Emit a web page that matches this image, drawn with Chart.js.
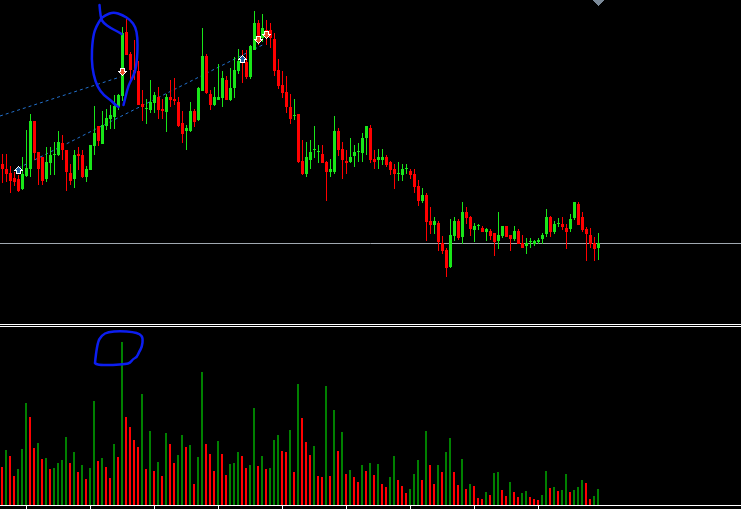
<!DOCTYPE html>
<html lang="en">
<head>
    <meta charset="UTF-8">
    <title>Candles + Volumes</title>
    <script src="https://cdn.jsdelivr.net/npm/chart.js"></script>
    <style>
        html, body { margin: 0; padding: 0; background: #000; overflow: hidden; }
        #wrap { position: relative; width: 741px; height: 509px; background: #000; }
        #priceChart { position: absolute; left: 0; top: 0; }
        #volChart { position: absolute; left: 0; top: 327px; }
        .sep { position: absolute; left: 0; width: 741px; height: 1px; background: #fff; }
    </style>
</head>
<body>
<div id="wrap">
    <canvas id="priceChart" width="741" height="323"></canvas>
    <div class="sep" style="top:324px"></div>
    <div class="sep" style="top:326px"></div>
    <canvas id="volChart" width="741" height="182"></canvas>
</div>

<script>
    // OHLC (150 bars)
    const openP = [
        166,161,157,152,151,141,154,161,209,178, 173,151,167,175,175,187,180,157,151,176,
        175,153,160,184,204,186,204,211,213,223, 234,298,276,260,259,226,221,220,227,233,
        221,218,233,231,228,207,199,199,219,210, 239,274,236,225,230,232,250,230,242,259,
        270,268,253,280,307,292,300,300,291,260, 245,238,223,214,216,169,156,170,180,178,
        176,168,158,158,199,181,169,168,174,178, 177,192,202,171,170,170,173,168,161,156,
        155,161,159,156,144,129,135,109,105,107, 87,80,63,94,109,93,118,113,100,104,
        102,98,99,97,89,94,104,95,91,99, 87,84,88,86,88,91,96,113,98,106,
        106,102,101,112,126,113,101,95,87,82
    ];
    const highP = [
        176,176,164,158,155,173,200,216,209,178, 173,183,183,188,199,195,180,166,180,183,
        180,164,185,224,204,219,221,225,235,236, 303,311,278,290,269,240,231,250,238,243,
        231,236,250,252,233,219,205,228,221,243, 302,276,240,243,266,259,254,262,273,281,
        280,280,285,319,310,316,310,307,297,271, 259,254,236,231,216,190,188,190,204,185,
        185,169,171,214,202,188,180,192,185,187, 197,204,205,180,181,181,175,169,166,168,
        166,166,161,161,150,142,137,123,113,109, 94,82,111,113,111,128,123,114,107,106,
        104,102,101,97,118,104,104,95,104,101, 95,92,92,90,92,97,121,114,109,112,
        113,106,116,128,128,118,103,102,93,97
    ];
    const lowP = [
        147,148,137,144,138,140,153,153,170,145, 145,148,155,155,174,170,139,145,142,160,
        152,148,160,175,184,186,200,201,201,220, 229,275,250,250,225,209,206,217,217,211,
        211,198,223,225,203,187,180,198,203,209, 239,236,220,224,230,223,230,229,232,256,
        247,251,251,280,285,288,285,282,254,241, 232,217,206,210,167,155,153,161,172,167,
        167,129,153,156,174,151,156,167,163,168, 168,175,167,161,161,165,163,155,141,149,
        149,156,151,137,124,127,89,96,96,79, 76,53,62,89,90,86,106,94,88,100,
        98,89,90,74,81,92,93,79,89,86, 82,76,82,84,86,86,93,93,96,103,
        100,81,98,110,105,98,69,82,69,70
    ];
    const closeP = [
        161,156,149,148,139,156,162,209,177,161, 149,168,175,175,188,180,158,149,175,174,
        153,161,185,197,189,205,212,215,224,235, 297,275,260,257,225,223,221,228,235,220,
        219,233,230,229,204,196,202,219,208,242, 274,237,225,233,233,252,230,242,260,269,
        267,253,284,307,293,302,292,292,259,244, 237,223,211,214,168,156,173,178,180,178,
        167,158,161,199,180,170,167,173,178,178, 192,204,170,168,173,173,165,160,156,156,
        161,161,155,143,129,135,108,105,109,88, 79,62,95,109,92,118,112,101,104,104,
        98,101,94,88,95,104,93,91,99,86, 82,87,88,89,90,95,113,98,106,106,
        103,98,111,128,105,100,96,86,81,87
    ];
    const volumes = [
        38,55,49,29,36,56,102,88,57,62, 46,47,36,37,42,45,68,42,53,33,
        40,26,37,104,44,47,38,27,61,48, 163,88,78,65,58,111,36,74,34,43,
        29,72,61,42,50,70,58,60,21,48, 133,61,51,34,64,51,30,41,42,53,
        49,37,40,97,39,49,36,37,65,70, 54,53,75,33,121,87,63,50,59,29,
        28,119,29,95,54,73,31,35,28,23, 40,34,42,30,41,21,18,28,49,25,
        19,12,16,31,45,25,74,40,21,40, 33,53,67,33,20,46,16,21,19,7,
        6,13,10,32,33,15,9,23,13,8, 12,14,8,6,5,10,34,17,18,14,
        15,31,13,15,18,25,22,6,9,16
    ];
    const timeTicks = [6, 22, 38, 54, 70, 86, 102, 118, 134];

    // signals and drawn objects: [bar index, price]
    const upArrows = [[4, 160], [60, 271]];
    const downArrows = [[30, 258], [64, 290], [66, 295]];
    const upperTrend = [[-0.625, 214], [29.4, 253]];
    const lowerTrend = [[4, 162], [65, 285]];
    const levelPrice = 86.5;
    const shiftMarker = [149, 327];

    // hand-drawn circles (pixel offsets from bar 30)
    const doodlePrice = [
        [[-23,-22],[-22,-9],[-19,-4],[-12,1],[-4,5],[-1,7]],
        [[-21,-9],[-17,-12],[-9,-15],[0,-12],[8,-7],[13,0],[15,10],[15,26],[14,36],[13,43],[10,51],[6,58],[3,70],[1,78]],
        [[-21,-9],[-27,0],[-30,13],[-31,33],[-29,48],[-25,60],[-19,68],[-12,73],[-7,78],[-4,80]]
    ];
    const doodleVolume = [
        [[-27,21],[-25,1],[-20,-7],[-14,-10],[-2,-11],[11,-10],[18,-8],[21,-4],[20,5],[17,10],[15,15],[11,17],[8,21],[4,22],[-9,23],[-22,23],[-26,22],[-27,21]]
    ];

    const BULL = '#19e619', BEAR = '#ff0000';
    const idx = openP.map((_, i) => i);
    const candleColors = idx.map(i => closeP[i] >= openP[i] ? BULL : BEAR);
    // MT4 volumes: green when volume grows vs previous bar
    const volColors = volumes.map((v, i) => i > 0 && v > volumes[i - 1] ? '#008000' : '#ff0000');

    function pixelIcon(rows, palette) {
        const c = document.createElement('canvas');
        c.width = rows[0].length;
        c.height = rows.length;
        const g = c.getContext('2d');
        rows.forEach((r, y) => [...r].forEach((ch, x) => {
            if (palette[ch]) { g.fillStyle = palette[ch]; g.fillRect(x, y, 1, 1); }
        }));
        return c;
    }
    const arrowRows = ['....W....', '...WBW...', '..WBBBW..', '.WBBBBBW.', 'WWWBBBWWW', '..WBBBW..', '..WBBBW..', '..WWWWW..'];
    const upImg = pixelIcon(arrowRows, { W: '#ffffff', B: '#1f5f9f' });
    const downImg = pixelIcon(arrowRows.slice().reverse(), { W: '#ffffff', B: '#e8502a' });
    const shiftImg = pixelIcon(['XXXXXXXXXXX', '.XXXXXXXXX.', '..XXXXXXX..', '...XXXXX...', '....XXX....', '.....X.....'], { X: '#7b8a99' });

    function drawDoodle(chart, xv, yv, strokes) {
        const { ctx, scales } = chart;
        const ox = scales.x.getPixelForValue(xv), oy = scales.y.getPixelForValue(yv);
        ctx.save();
        ctx.strokeStyle = '#0c1ef0';
        ctx.lineWidth = 2.5;
        ctx.lineJoin = 'round';
        ctx.lineCap = 'round';
        strokes.forEach(s => {
            const p = s.map(([dx, dy]) => [ox + dx, oy + dy]);
            ctx.beginPath();
            ctx.moveTo(p[0][0], p[0][1]);
            for (let k = 1; k < p.length - 1; k++) {
                ctx.quadraticCurveTo(p[k][0], p[k][1], (p[k][0] + p[k + 1][0]) / 2, (p[k][1] + p[k + 1][1]) / 2);
            }
            ctx.lineTo(p[p.length - 1][0], p[p.length - 1][1]);
            ctx.stroke();
        });
        ctx.restore();
    }

    const toPts = arr => arr.map(([x, y]) => ({ x, y }));

    new Chart(document.getElementById('priceChart'), {
        type: 'bar',
        data: {
            datasets: [
                {
                    type: 'line', order: -1, data: toPts(upArrows), showLine: false,
                    pointStyle: upImg, pointRadius: 5
                },
                {
                    type: 'line', order: -1, data: toPts(downArrows), showLine: false,
                    pointStyle: downImg, pointRadius: 5
                },
                {
                    type: 'line', order: -1, data: toPts([shiftMarker]), showLine: false,
                    pointStyle: shiftImg, pointRadius: 5
                },
                {   // bodies
                    order: 0, grouped: false, barPercentage: 1, categoryPercentage: 1,
                    maxBarThickness: 3, minBarLength: 1, inflateAmount: 0, borderWidth: 0,
                    data: idx.map(i => ({ x: i, y: [openP[i], closeP[i]] })),
                    backgroundColor: candleColors
                },
                {   // wicks
                    order: 1, grouped: false, barPercentage: 1, categoryPercentage: 1,
                    maxBarThickness: 1, inflateAmount: 0, borderWidth: 0,
                    data: idx.map(i => ({ x: i, y: [lowP[i], highP[i]] })),
                    backgroundColor: candleColors
                },
                {
                    type: 'line', order: 2, data: toPts(upperTrend), borderColor: '#2270cc',
                    borderWidth: 1, borderDash: [3, 3], pointRadius: 0
                },
                {
                    type: 'line', order: 2, data: toPts(lowerTrend), borderColor: '#2270cc',
                    borderWidth: 1, borderDash: [3, 3], pointRadius: 0
                },
                {
                    type: 'line', order: 3, data: [{ x: -0.625, y: levelPrice }, { x: 184.625, y: levelPrice }],
                    borderColor: '#a0a8b0', borderWidth: 1, pointRadius: 0
                }
            ]
        },
        options: {
            responsive: false,
            animation: false,
            events: [],
            layout: { padding: 0, autoPadding: false },
            plugins: { legend: { display: false }, tooltip: { enabled: false } },
            scales: {
                x: { type: 'linear', display: false, offset: false, bounds: 'data', min: -0.625, max: 184.625 },
                y: { type: 'linear', display: false, bounds: 'data', min: 7, max: 330 }
            }
        },
        plugins: [{
            id: 'doodle',
            afterDatasetsDraw: chart => drawDoodle(chart, 30, highP[30], doodlePrice)
        }]
    });

    new Chart(document.getElementById('volChart'), {
        type: 'bar',
        data: {
            datasets: [{
                data: idx.map(i => ({ x: i, y: volumes[i] })),
                backgroundColor: volColors,
                barThickness: 2,
                inflateAmount: 0,
                borderWidth: 0
            }]
        },
        options: {
            responsive: false,
            animation: false,
            events: [],
            layout: { padding: 0, autoPadding: false },
            plugins: { legend: { display: false }, tooltip: { enabled: false } },
            scales: {
                x: {
                    type: 'linear', offset: false, bounds: 'data', min: -0.5, max: 184.75,
                    afterBuildTicks: axis => { axis.ticks = timeTicks.map(v => ({ value: v })); },
                    ticks: { display: false },
                    grid: { offset: false, drawOnChartArea: false, drawTicks: true, tickLength: 4, color: '#ffffff', lineWidth: 1 },
                    border: { display: true, color: '#ffffff', width: 1 }
                },
                y: { type: 'linear', display: false, bounds: 'data', min: 0, max: 178 }
            }
        },
        plugins: [{
            id: 'doodleVol',
            afterDatasetsDraw: chart => drawDoodle(chart, 30, volumes[30], doodleVolume)
        }]
    });
</script>
</body>
</html>
